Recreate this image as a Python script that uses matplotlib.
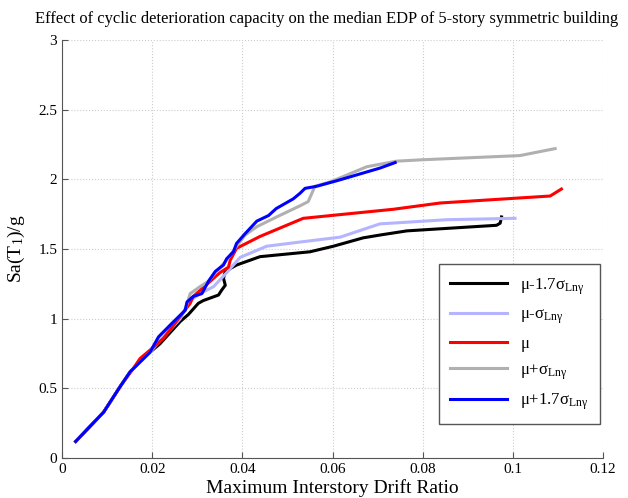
import matplotlib
matplotlib.use("Agg")
import matplotlib.pyplot as plt

plt.rcParams["font.family"] = ["Liberation Serif", "DejaVu Serif"]
plt.rcParams["mathtext.fontset"] = "custom"
plt.rcParams["mathtext.rm"] = "Liberation Serif"
plt.rcParams["mathtext.it"] = "Liberation Serif"

# median EDP curves (drift ratio, Sa(T1)/g)
x_m17 = [0.003, 0.0092, 0.013, 0.0151, 0.0195, 0.0217, 0.0262, 0.028, 0.0302, 0.0313,
         0.0347, 0.0354, 0.0362, 0.0358, 0.0362, 0.0387, 0.0439, 0.055, 0.0602, 0.0668,
         0.0705, 0.0765, 0.0964, 0.0972, 0.0975]
y_m17 = [0.12, 0.33, 0.52, 0.62, 0.76, 0.82, 0.98, 1.03, 1.11, 1.13,
         1.17, 1.205, 1.24, 1.29, 1.34, 1.385, 1.445, 1.48, 1.52, 1.58,
         1.60, 1.63, 1.67, 1.685, 1.73]

x_m10 = [0.003, 0.0092, 0.013, 0.0151, 0.0195, 0.0225, 0.0262, 0.028, 0.0306, 0.0336,
         0.0365, 0.0395, 0.0454, 0.0528, 0.0617, 0.0705, 0.0853, 0.1005]
y_m10 = [0.12, 0.33, 0.52, 0.62, 0.76, 0.87, 1.0, 1.12, 1.18, 1.23,
         1.33, 1.44, 1.52, 1.55, 1.585, 1.68, 1.71, 1.72]

x_mu = [0.003, 0.0092, 0.013, 0.0155, 0.0173, 0.0195, 0.0225, 0.0251, 0.0284, 0.0291,
        0.0336, 0.035, 0.0369, 0.0373, 0.0387, 0.0439, 0.0535, 0.0735, 0.0839, 0.1083,
        0.1108]
y_mu = [0.12, 0.33, 0.52, 0.63, 0.715, 0.775, 0.86, 0.97, 1.11, 1.16,
        1.29, 1.33, 1.37, 1.42, 1.505, 1.59, 1.72, 1.785, 1.83, 1.88,
        1.93]

x_p10 = [0.003, 0.0092, 0.013, 0.0151, 0.0195, 0.0214, 0.024, 0.0273, 0.0284, 0.0306,
         0.0325, 0.034, 0.0365, 0.0387, 0.0406, 0.0432, 0.0476, 0.0528, 0.0546, 0.0561,
         0.0598, 0.0676, 0.0742, 0.080, 0.1016, 0.1094]
y_p10 = [0.12, 0.33, 0.52, 0.62, 0.76, 0.87, 0.955, 1.06, 1.18, 1.23,
         1.27, 1.33, 1.42, 1.52, 1.60, 1.66, 1.73, 1.81, 1.84, 1.95,
         1.985, 2.09, 2.13, 2.14, 2.17, 2.22]

x_p17 = [0.003, 0.0092, 0.013, 0.0151, 0.0195, 0.0214, 0.024, 0.0273, 0.0277, 0.0291,
         0.031, 0.0325, 0.034, 0.0358, 0.0365, 0.038, 0.0387, 0.0406, 0.0432, 0.0458,
         0.0475, 0.0513, 0.0528, 0.0539, 0.0565, 0.061, 0.0705, 0.0739]
y_p17 = [0.12, 0.33, 0.52, 0.62, 0.76, 0.87, 0.955, 1.06, 1.12, 1.16,
         1.18, 1.27, 1.34, 1.385, 1.43, 1.48, 1.54, 1.61, 1.70, 1.74,
         1.79, 1.86, 1.90, 1.935, 1.95, 1.99, 2.08, 2.12]

labels = ["μ-1.7σ$_{\\mathrm{Lnγ}}$", "μ-σ$_{\\mathrm{Lnγ}}$", "μ",
          "μ+σ$_{\\mathrm{Lnγ}}$", "μ+1.7σ$_{\\mathrm{Lnγ}}$"]

fig = plt.figure(figsize=(6.28, 4.98), dpi=100)
ax = fig.add_axes([0.099, 0.080, 0.861, 0.840])

ax.plot(x_m17, y_m17, color="black", linewidth=2.2, label=labels[0])
ax.plot(x_m10, y_m10, color="#b4b4ff", linewidth=2.2, label=labels[1])
ax.plot(x_mu, y_mu, color="red", linewidth=2.2, label=labels[2])
ax.plot(x_p10, y_p10, color="#b0b0b0", linewidth=2.2, label=labels[3])
ax.plot(x_p17, y_p17, color="blue", linewidth=2.2, label=labels[4])

ax.set_xlim(0, 0.12)
ax.set_ylim(0, 3)
ax.set_xticks([0, 0.02, 0.04, 0.06, 0.08, 0.1, 0.12])
ax.set_xticklabels(["0", "0.02", "0.04", "0.06", "0.08", "0.1", "0.12"])
ax.set_yticks([0, 0.5, 1, 1.5, 2, 2.5, 3])
ax.set_yticklabels(["0", "0.5", "1", "1.5", "2", "2.5", "3"])
ax.tick_params(direction="in", labelsize=11, length=4, color="#555555")
ax.spines["top"].set_visible(False)
ax.spines["right"].set_visible(False)
ax.spines["left"].set_color("#555555")
ax.spines["bottom"].set_color("#555555")
ax.grid(True, linestyle=":", color="#cccccc", linewidth=0.8)

ax.set_title("Effect of cyclic deterioration capacity on the median EDP of 5-story symmetric building",
             fontsize=11.9, pad=12, x=0.49)
ax.set_xlabel("Maximum Interstory Drift Ratio", fontsize=14, labelpad=2)
ax.set_ylabel(r"Sa(T$_{\mathrm{1}}$)/g", fontsize=14, labelpad=8)

leg = ax.legend(loc="lower right", bbox_to_anchor=(1.01, 0.062), fontsize=12,
                handlelength=3.4, labelspacing=0.6, borderpad=0.7,
                fancybox=False, framealpha=1, edgecolor="#555555")
leg.get_frame().set_linewidth(1.0)

fig.savefig("out.png", dpi=100)
